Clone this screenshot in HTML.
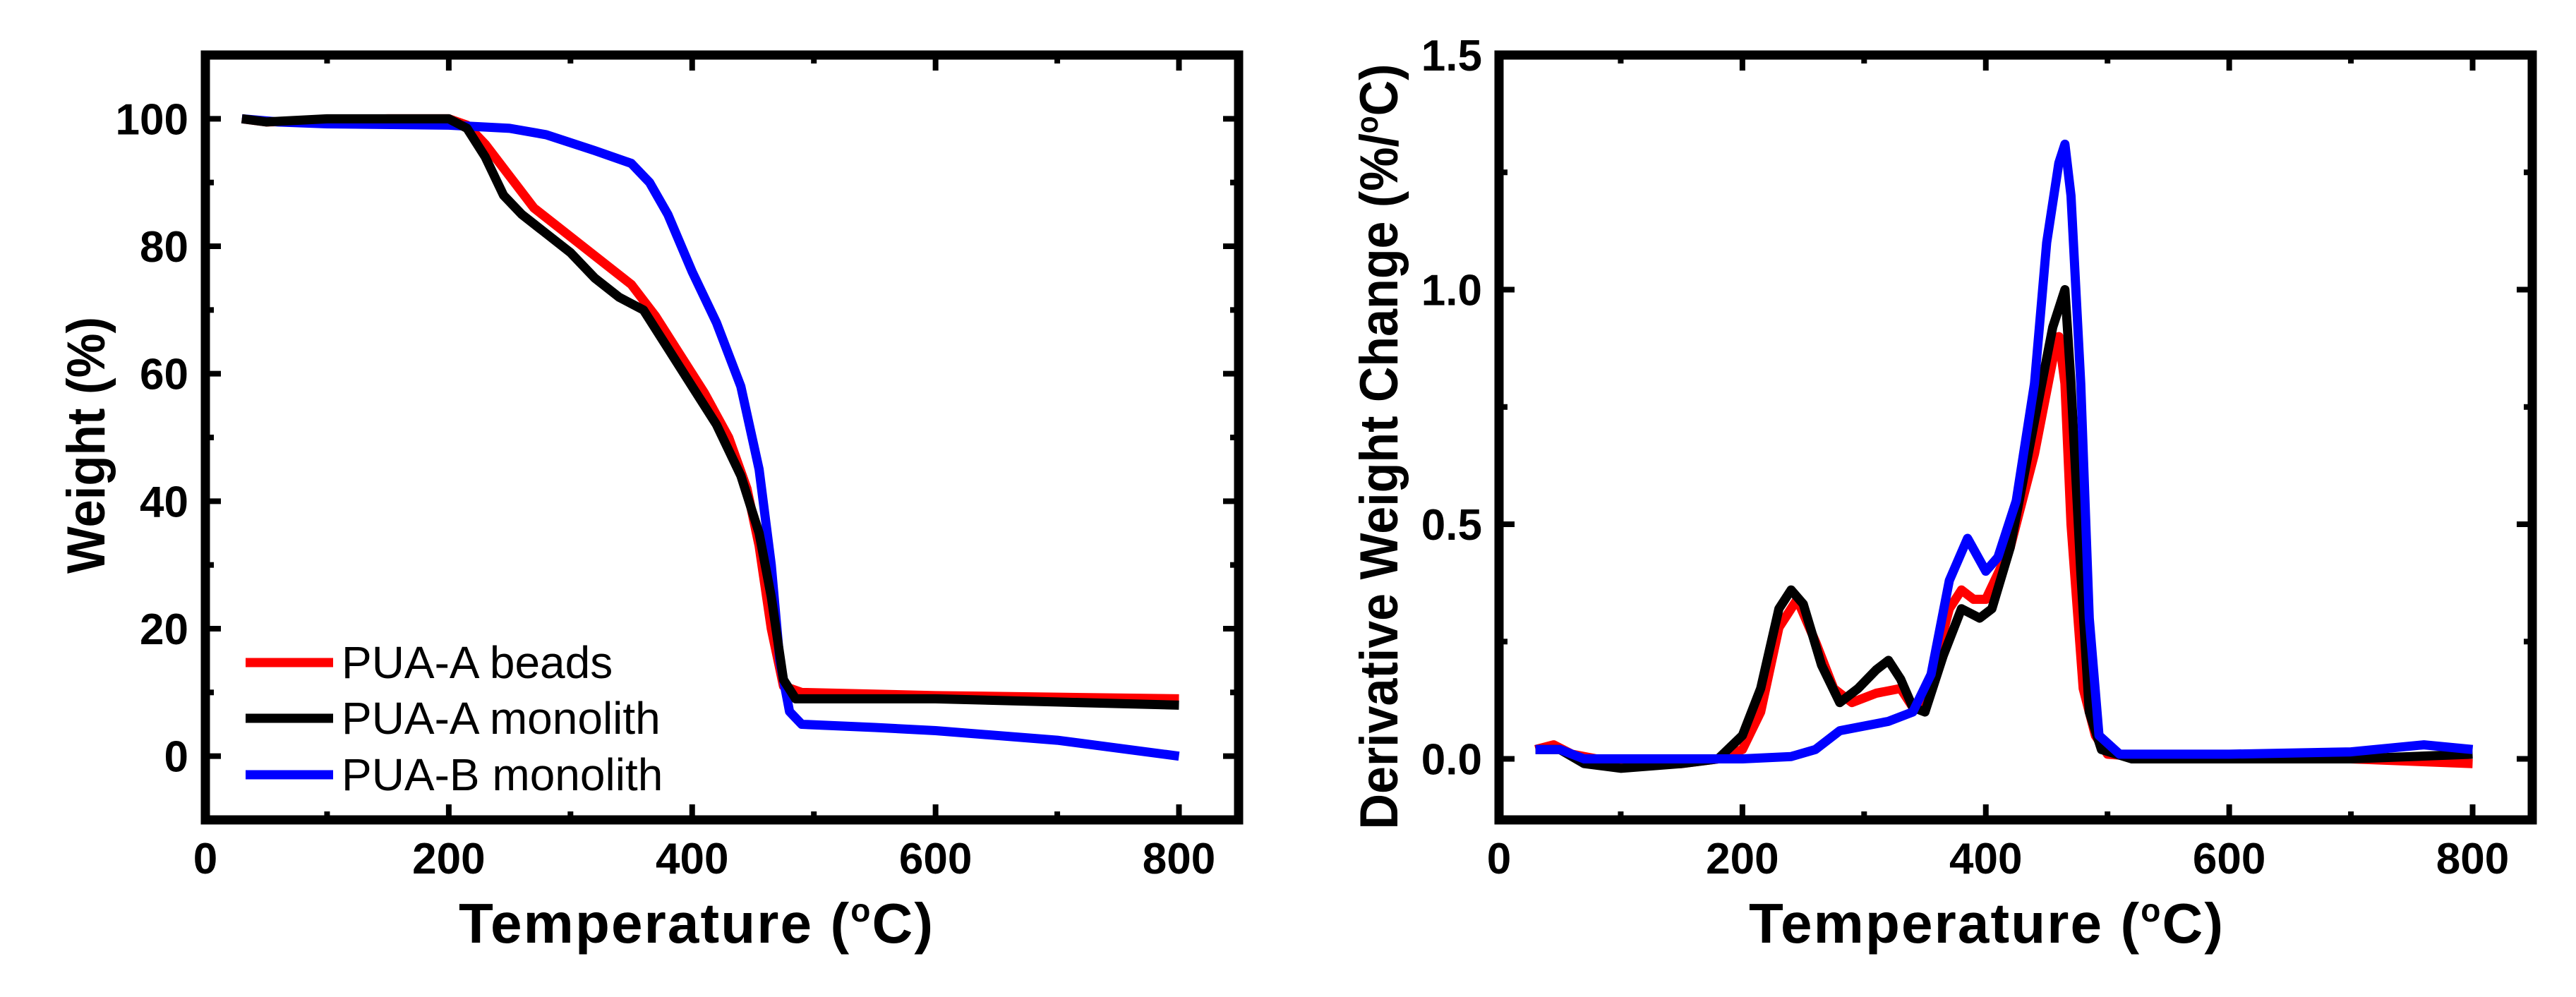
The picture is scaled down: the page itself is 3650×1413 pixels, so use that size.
<!DOCTYPE html>
<html><head><meta charset="utf-8"><style>
html,body{margin:0;padding:0;background:#fff;}
svg{display:block;font-family:"Liberation Sans",Arial,sans-serif;}
</style></head><body>
<svg id="fig" width="3650" height="1413" viewBox="0 0 3650 1413" xmlns="http://www.w3.org/2000/svg"></svg>
<script>
// ---- Left chart data (TGA) ----
const tgaBeadsX = [30,50,100,150,200,215,230,250,270,290,310,330,350,370,390,410,430,445,455,465,475,490,600,800];
const tgaBeadsY = [100,99.5,99.7,100,100,99,96,91,86,83,80,77,74,69,63,57,50,42,33,20,11,10,9.5,9];
const tgaMonoAX = [30,50,100,200,215,230,245,260,280,300,320,340,360,380,400,420,440,455,465,475,485,600,700,800];
const tgaMonoAY = [100,99.5,100,100,98.5,94,88,85,82,79,75,72,70,64,58,52,44,35,25,12,9,9,8.5,8];
const tgaMonoBX = [30,60,100,200,250,280,320,350,365,380,400,420,440,455,465,472,480,490,550,600,700,800];
const tgaMonoBY = [100,99.5,99.2,99,98.5,97.5,95,93,90,85,76,68,58,45,30,15,7,5,4.5,4,2.5,0];
const tgaXTicks = [0,200,400,600,800];
const tgaYTicks = [0,20,40,60,80,100];
// ---- Right chart data (DTG) ----
const dtgBeadsX = [30,45,60,80,100,150,180,200,215,230,245,260,275,290,310,330,340,350,370,380,390,400,420,440,455,460,465,470,480,490,500,550,700,800];
const dtgBeadsY = [0.02,0.03,0.01,0,-0.01,-0.01,0,0.02,0.1,0.28,0.34,0.25,0.15,0.12,0.14,0.15,0.11,0.12,0.32,0.36,0.34,0.34,0.45,0.65,0.85,0.9,0.8,0.5,0.15,0.05,0.01,0,0,-0.01];
const dtgMonoAX = [30,50,70,100,150,180,200,215,230,240,250,265,280,295,310,320,330,340,350,365,380,395,405,420,440,455,465,470,478,485,495,520,700,800];
const dtgMonoAY = [0.02,0.02,-0.01,-0.02,-0.01,0,0.05,0.15,0.32,0.36,0.33,0.2,0.12,0.15,0.19,0.21,0.17,0.11,0.1,0.22,0.32,0.3,0.32,0.45,0.72,0.92,1.0,0.8,0.4,0.1,0.02,0,0,0.01];
const dtgMonoBX = [30,50,70,200,240,260,280,300,320,340,355,370,385,400,410,425,440,450,460,465,470,478,485,493,510,600,700,760,800];
const dtgMonoBY = [0.02,0.02,0,0,0.005,0.02,0.06,0.07,0.08,0.1,0.18,0.38,0.47,0.4,0.43,0.55,0.8,1.1,1.27,1.31,1.2,0.8,0.3,0.05,0.01,0.01,0.015,0.03,0.02];
const dtgXTicks = [0,200,400,600,800];
const dtgYTicks = [0.0,0.5,1.0,1.5];
const legendLabels = ["PUA-A beads","PUA-A monolith","PUA-B monolith"];

const NS="http://www.w3.org/2000/svg";
const svg=document.getElementById('fig');
function mk(tag,attrs,parent){const e=document.createElementNS(NS,tag);for(const k in attrs)e.setAttribute(k,attrs[k]);(parent||svg).appendChild(e);return e;}

function chart(cfg){
  const g=mk('g',{});
  
  
  const sx=v=>cfg.x0+(v-cfg.xmin)/(cfg.xmax-cfg.xmin)*(cfg.x1-cfg.x0);
  const sy=v=>cfg.y1-(v-cfg.ymin)/(cfg.ymax-cfg.ymin)*(cfg.y1-cfg.y0);
  cfg.series.forEach(s=>{
    const p=mk('polyline',{points:s.x.map((v,i)=>sx(v)+','+sy(s.y[i])).join(' '),fill:'none',stroke:s.color,'stroke-width':13,'stroke-linejoin':'round','stroke-linecap':'butt'},g);
    
    
  });
  const tg=mk('g',{stroke:'#000','stroke-width':8},g);
  
  
  for(let v=cfg.xmin;v<=cfg.xmax+1e-9;v+=cfg.xminor){
    const major=Math.abs(v/cfg.xmajor-Math.round(v/cfg.xmajor))<1e-6; const L=major?22:12; const X=sx(v);
    if(X<=cfg.x0+2||X>=cfg.x1-2)continue;
    mk('line',{x1:X,x2:X,y1:cfg.y1,y2:cfg.y1-L},tg); mk('line',{x1:X,x2:X,y1:cfg.y0,y2:cfg.y0+L},tg);
  }
  for(let v=cfg.yfirst;v<=cfg.ymax+1e-9;v+=cfg.yminor){
    const major=Math.abs(v/cfg.ymajor-Math.round(v/cfg.ymajor))<1e-6; const L=major?22:12; const Y=sy(v);
    if(Y<=cfg.y0+2||Y>=cfg.y1-2)continue;
    mk('line',{y1:Y,y2:Y,x1:cfg.x0,x2:cfg.x0+L},tg); mk('line',{y1:Y,y2:Y,x1:cfg.x1,x2:cfg.x1-L},tg);
  }
  const fr=mk('rect',{x:cfg.x0,y:cfg.y0,width:cfg.x1-cfg.x0,height:cfg.y1-cfg.y0,fill:'none',stroke:'#000','stroke-width':13},g);
  
  
  cfg.xticks.forEach(v=>{const t=mk('text',{x:sx(v),y:cfg.y1+76,'text-anchor':'middle','font-size':62,'font-weight':'bold'},g);t.textContent=String(v);
    
    });
  cfg.yticks.forEach(v=>{const t=mk('text',{x:cfg.ylabX,y:sy(v)+22,'text-anchor':'end','font-size':62,'font-weight':'bold'},g);t.textContent=cfg.yfmt(v);
    
    });
  const xt=mk('text',{x:cfg.xtX,y:1336,'text-anchor':'middle','font-size':80,'font-weight':'bold','textLength':672,'lengthAdjust':'spacing'},g);
  xt.innerHTML='Temperature (<tspan dy="-30" font-size="46">o</tspan><tspan dy="30">C)</tspan>';
  
  
  const yt=mk('text',{transform:`translate(${cfg.ytX},${cfg.ytY}) rotate(-90)`,'text-anchor':'middle','font-size':cfg.ytFS,'font-weight':'bold','textLength':cfg.ytLen,'lengthAdjust':'spacingAndGlyphs'},g);
  yt.innerHTML=cfg.ytitle;
  
  
  return {g,sx,sy};
}

chart({name:'tga-chart',x0:291,x1:1755,y0:78,y1:1162,xmin:0,xmax:849,ymin:-10,ymax:110,
  xmajor:200,xminor:100,ymajor:20,yminor:10,yfirst:-10,xticks:tgaXTicks,yticks:tgaYTicks,yfmt:v=>String(v),ylabX:267,
  xtX:986,ytX:148,ytY:631,ytFS:76,ytLen:364,ytitle:'Weight (%)',
  series:[{name:'tga-pua-a-beads',x:tgaBeadsX,y:tgaBeadsY,color:'#ff0000'},
          {name:'tga-pua-b-monolith',x:tgaMonoBX,y:tgaMonoBY,color:'#0000ff'},
          {name:'tga-pua-a-monolith',x:tgaMonoAX,y:tgaMonoAY,color:'#000000'}]});

chart({name:'dtg-chart',x0:2124,x1:3588,y0:78,y1:1162,xmin:0,xmax:849,ymin:-0.13,ymax:1.5,
  xmajor:200,xminor:100,ymajor:0.5,yminor:0.25,yfirst:0,xticks:dtgXTicks,yticks:dtgYTicks,yfmt:v=>v.toFixed(1),ylabX:2100,
  xtX:2814,ytX:1980,ytY:633,ytFS:76,ytLen:1085,ytitle:'Derivative Weight Change (%/<tspan dy="-28" font-size="44">o</tspan><tspan dy="28">C)</tspan>',
  series:[{name:'dtg-pua-a-beads',x:dtgBeadsX,y:dtgBeadsY,color:'#ff0000'},
          {name:'dtg-pua-a-monolith',x:dtgMonoAX,y:dtgMonoAY,color:'#000000'},
          {name:'dtg-pua-b-monolith',x:dtgMonoBX,y:dtgMonoBY,color:'#0000ff'}]});

const lg=mk('g',{});


const lcols=['#ff0000','#000000','#0000ff'];const lys=[939,1018,1098];
legendLabels.forEach((lab,i)=>{
  const ln=mk('line',{x1:348,x2:472,y1:lys[i],y2:lys[i],stroke:lcols[i],'stroke-width':13},lg);
  
  
  const t=mk('text',{x:484,y:lys[i]+22,'font-size':64},lg);t.textContent=lab;
  
  
});
</script>
</body></html>
